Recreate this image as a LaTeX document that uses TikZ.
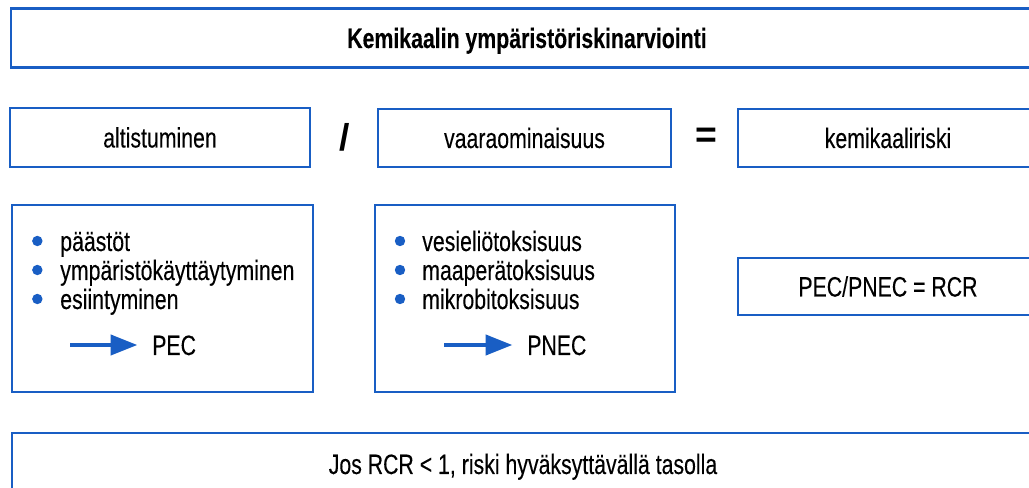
\documentclass[tikz,border=0pt]{standalone}
\usepackage{fontspec}
\setmainfont[FakeStretch=0.76, FakeBold=0.15]{Liberation Sans}
\newfontfamily\opfont{Liberation Sans}
\usetikzlibrary{arrows.meta, positioning}
\definecolor{riskblue}{RGB}{25, 94, 196}
\newcommand{\px}{0.75pt}

\tikzset{
  txt/.style={inner sep=0pt, text height=15pt, text depth=0pt, font=\fontsize{21}{23}\selectfont},
  frame/.style args={#1x#2}{txt, draw=riskblue, line width=2.2pt, minimum width=#1*\px, minimum height=#2*\px},
  op/.style={inner sep=0pt, text height=14pt, text depth=0pt, font=\opfont\bfseries\fontsize{28}{28}\selectfont},
  flow/.style={draw=riskblue, line width=3pt, -{Triangle[length=20pt, width=15pt]}, shorten >=11pt},
  dot/.style={fill=riskblue},
}

\begin{document}
\begin{tikzpicture}[x=0.75pt, y=-0.75pt]
  \clip (0,0) rectangle (1029,488);

  % title and the formula row
  \node[frame=1032x59, font=\fontsize{21}{23}\selectfont\bfseries] (title) at (527,38) {Kemikaalin ympäristöriskinarviointi};
  \node[frame=300x59] (expo) at (160,137.5) {altistuminen};
  \node[frame=293x58] (haz) at (524.5,138) {vaaraominaisuus};
  \node[frame=300x58] (risk) at (888,138) {kemikaaliriski};
  \node[op] (div) at (345,141) {/};
  \node[op] (eq) at (706,138) {=};

  % detail boxes
  \node[frame=301x187] (expobox) at (162.5,298.5) {};
  \node[frame=300x187] (hazbox) at (525,298.5) {};
  \node[frame=300x57] (rcr) at (888,286.5) {PEC/PNEC = RCR};
  \node[frame=1022x62] (rule) at (523,464) {Jos RCR < 1, riski hyväksyttävällä tasolla};

  % exposure side
  \node[txt, anchor=west] (e1) at (60,241) {päästöt};
  \node[txt, anchor=west] (e2) at (60,270) {ympäristökäyttäytyminen};
  \node[txt, anchor=west] (e3) at (60,299) {esiintyminen};
  \foreach \i in {e1,e2,e3}
    \fill[dot] ([xshift=-17pt]\i.west) circle[radius=3.9pt];
  \coordinate (ea) at (70,345);
  \node[txt, anchor=west] (pec) at (152,345) {PEC};
  \draw[flow] (ea) -- (pec.west);

  % hazard side
  \node[txt, anchor=west] (h1) at (422,241) {vesieliötoksisuus};
  \node[txt, anchor=west] (h2) at (422,270) {maaperätoksisuus};
  \node[txt, anchor=west] (h3) at (422,299) {mikrobitoksisuus};
  \foreach \i in {h1,h2,h3}
    \fill[dot] ([xshift=-16.5pt]\i.west) circle[radius=3.9pt];
  \coordinate (ha) at (444,345);
  \node[txt, anchor=west] (pnec) at (527,345) {PNEC};
  \draw[flow] (ha) -- (pnec.west);
\end{tikzpicture}
\end{document}
